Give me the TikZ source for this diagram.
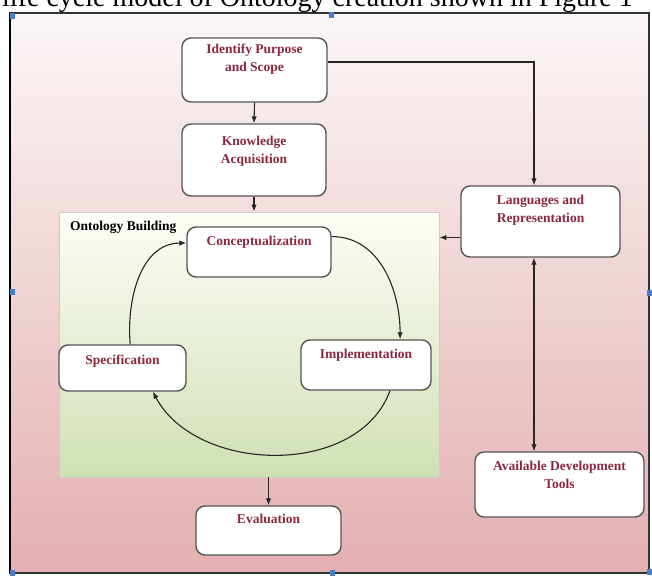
\documentclass[tikz,border=0pt]{standalone}
\usepackage{fontspec}
\setmainfont{Liberation Serif}
\usetikzlibrary{arrows.meta}

\definecolor{bgtop}{RGB}{251,246,246}
\definecolor{bgmid}{RGB}{243,220,220}
\definecolor{bgbot}{RGB}{228,175,176}
\definecolor{paneltop}{RGB}{253,253,247}
\definecolor{panelbot}{RGB}{208,224,180}
\definecolor{boxline}{RGB}{85,85,85}
\definecolor{labelred}{RGB}{140,40,60}
\definecolor{handleblue}{RGB}{70,125,205}

\tikzset{
  box/.style={draw=boxline, fill=white, rounded corners=9pt, line width=1.4pt, inner sep=0pt},
  boxtext/.style={font=\fontsize{13.5}{18}\selectfont\bfseries, text=labelred, align=center, anchor=north, inner sep=0pt, yshift=-10pt},
  flow/.style={draw=black!85, line width=1.1pt, ->},
  handle/.style={fill=handleblue}
}

\begin{document}
\begin{tikzpicture}[x=1pt, y=1pt, >={Latex[length=7pt,width=5.5pt]}]
  \useasboundingbox (0,0) rectangle (652,-575);
  \node[font=\fontsize{28}{30}\selectfont, anchor=base west, inner sep=0pt] (caption) at (2,-7) {life cycle model of Ontology creation shown in Figure 1};
  \draw[black!80, line width=1.3pt, top color=bgtop, middle color=bgmid, bottom color=bgbot] (10,-13) rectangle (649,-573);
  \draw[black, line width=2pt] (10,-13) -- (10,-573);
  \foreach \hx/\hy in {12/16, 331/15, 12/292, 649/293, 12/573, 332/573, 649/572}
    \fill[handle] (\hx-2.5,-\hy-3) rectangle ++(5,6);

  % ontology building panel
  \node[draw=black!20, line width=0.8pt, top color=paneltop, bottom color=panelbot, minimum width=380pt, minimum height=265pt, inner sep=0pt] (panel) at (249,-344.5) {};
  \node[font=\fontsize{13.5}{18}\selectfont\bfseries, anchor=west, inner sep=0pt] (paneltitle) at (70,-227) {Ontology Building};

  \node[box, minimum width=145pt, minimum height=64pt, label={[boxtext, yshift=4pt]north:{Identify Purpose\\and Scope}}] (purpose) at (254.5,-70) {};
  \node[box, minimum width=144pt, minimum height=72pt, label={[boxtext, yshift=-3pt]north:{Knowledge\\Acquisition}}] (knowledge) at (254,-160) {};
  \node[box, minimum width=159pt, minimum height=71pt, label={[boxtext]north:{Languages and\\Representation}}] (lang) at (540.5,-221.5) {};
  \node[box, minimum width=169pt, minimum height=65pt, label={[boxtext]north:{Available Development\\Tools}}] (tools) at (559.5,-484.5) {};
  \node[box, minimum width=144pt, minimum height=50pt, label={[boxtext]north:Conceptualization}] (concept) at (259,-252) {};
  \node[box, minimum width=130pt, minimum height=50pt, label={[boxtext]north:Implementation}] (impl) at (366,-365) {};
  \node[box, minimum width=127pt, minimum height=46pt, label={[boxtext]north:Specification}] (spec) at (122.5,-368) {};
  \node[box, minimum width=145pt, minimum height=49pt, label={[boxtext, yshift=1pt]north:Evaluation}] (eval) at (268.5,-530.5) {};

  \draw[flow] (purpose.south) -- (knowledge.north);
  \draw[flow] (knowledge.south) -- (knowledge.south |- panel.north);
  \draw[flow] ([yshift=8pt]purpose.east) -| ([xshift=-6.5pt]lang.north);
  \draw[flow] ([yshift=-16pt]lang.west) -- ([yshift=-16pt]lang.west -| panel.east);
  \draw[flow, <->] ([xshift=-6.5pt]lang.south) -- ([xshift=-6.5pt]lang.south |- tools.north);
  \draw[flow] (eval.north |- panel.south) -- (eval.north);

  % development cycle
  \draw[flow] (concept.12) to[out=0, in=90] (impl.37);
  \draw[flow] (impl.-47) to[out=-110, in=-62] (spec.-38);
  \draw[flow] (spec.72) to[out=95, in=180] (concept.173);
\end{tikzpicture}
\end{document}
